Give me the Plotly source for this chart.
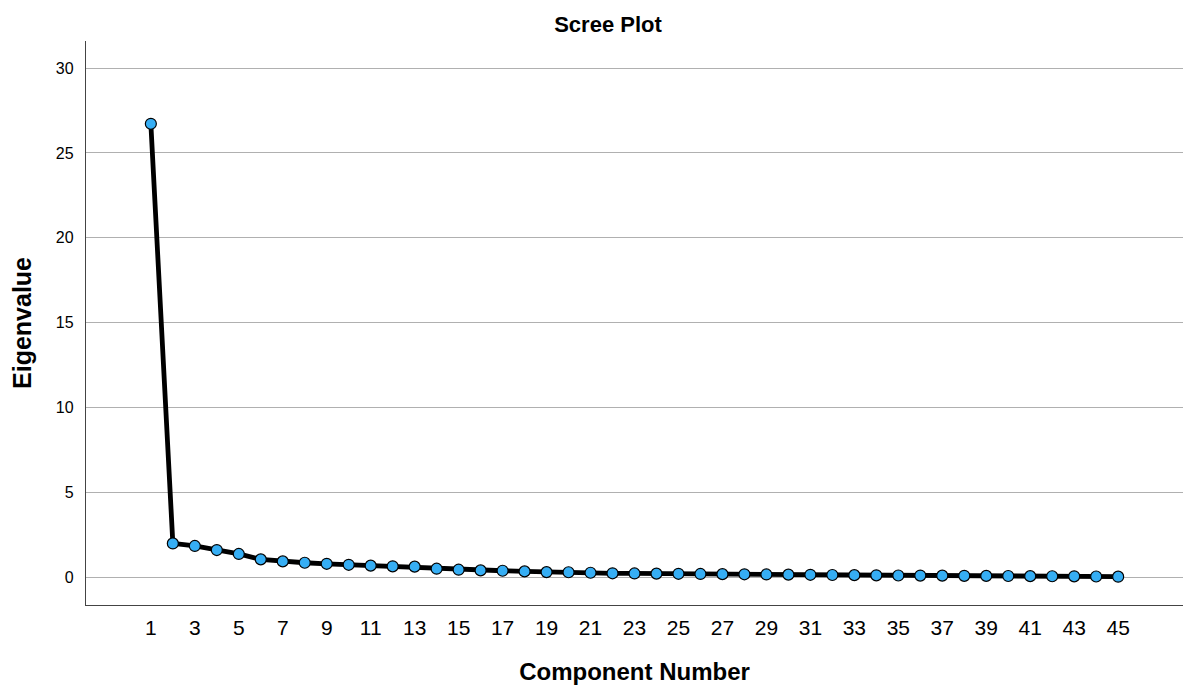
import plotly.graph_objects as go

# Eigenvalues
components = list(range(1, 46))
eigenvalues = [
    26.72, 1.98, 1.83, 1.59, 1.36, 1.04, 0.92, 0.84, 0.78, 0.72,
    0.67, 0.63, 0.61, 0.49, 0.43, 0.39, 0.37, 0.33, 0.29, 0.28,
    0.25, 0.22, 0.21, 0.20, 0.19, 0.18, 0.17, 0.16, 0.15, 0.14,
    0.13, 0.12, 0.11, 0.10, 0.09, 0.085, 0.08, 0.07, 0.065, 0.06,
    0.05, 0.045, 0.04, 0.03, 0.02,
]
x_ticks = list(range(1, 46, 2))
y_ticks = [0, 5, 10, 15, 20, 25, 30]

fig = go.Figure()
fig.add_trace(go.Scatter(
    x=components, y=eigenvalues, mode="lines+markers",
    line=dict(color="black", width=4.8),
    marker=dict(size=11, color="#36aef4", line=dict(color="black", width=1.2)),
    showlegend=False,
))

# page body adds ~8px offset, so margins are compensated
fig.update_layout(
    width=1200, height=692,
    margin=dict(l=75, r=25, t=33, b=95),
    plot_bgcolor="white", paper_bgcolor="white",
    font=dict(family="Liberation Sans, Arial, sans-serif", color="black"),
    title=dict(text="<b>Scree Plot</b>", x=0.5, xanchor="center", y=0.976,
               yanchor="middle", font=dict(size=22)),
)

fig.update_xaxes(
    range=[-1.95, 47.95], tickvals=x_ticks, ticktext=[str(t) for t in x_ticks],
    showgrid=False, zeroline=False, showline=True, linecolor="#444", linewidth=1.3,
    ticks="", tickfont=dict(size=21), ticklabelstandoff=4,
    title=dict(text="<b>Component Number</b>", font=dict(size=24), standoff=24),
)
fig.update_yaxes(
    range=[-1.65, 31.6], tickvals=y_ticks,
    showgrid=True, gridcolor="#b0b0b0", gridwidth=1, zeroline=False,
    showline=True, linecolor="#444", linewidth=1.3,
    ticks="", tickfont=dict(size=16), ticklabelstandoff=8,
    title=dict(text="<b>Eigenvalue</b>", font=dict(size=25), standoff=18),
)

fig.write_html("out.html")
